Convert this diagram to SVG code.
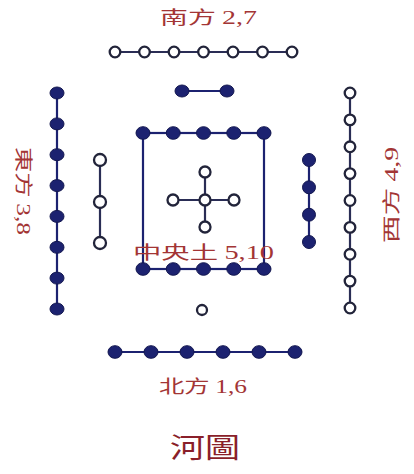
<svg xmlns="http://www.w3.org/2000/svg" width="414" height="474" viewBox="0 0 414 474">
<style>
.ln{stroke:#1c2270;stroke-width:2.2;fill:none}
.lw{stroke:#2a2d55;stroke-width:2.2;fill:none}
.b{fill:#1c2270;stroke:#141850;stroke-width:1}
.w{fill:#ffffff;stroke:#22243a;stroke-width:2.3}
.t{fill:#a33535;font-size:18px;font-family:"Noto Sans CJK SC","Noto Sans CJK TC",sans-serif}
.d{font-family:"Liberation Serif",serif}
</style>
<rect width="414" height="474" fill="#ffffff"/>
<g id="connectors">
<line class="lw" x1="115" y1="52" x2="292" y2="52"/>
<line class="ln" x1="182" y1="91" x2="227" y2="91"/>
<line class="ln" x1="57" y1="93" x2="57" y2="309"/>
<line class="lw" x1="100" y1="160" x2="100" y2="243"/>
<line class="lw" x1="350" y1="93" x2="350" y2="308"/>
<line class="ln" x1="309" y1="160" x2="309" y2="242"/>
<rect class="ln" x="143" y="133" width="121" height="136"/>
<line class="lw" x1="205" y1="172" x2="205" y2="227"/>
<line class="lw" x1="173" y1="200" x2="234" y2="200"/>
<line class="ln" x1="115" y1="352" x2="295" y2="352"/>
</g>
<g id="south">
<text class="t" x="160" y="24" textLength="97" lengthAdjust="spacingAndGlyphs">南方 <tspan class="d">2,7</tspan></text>
<circle class="w" cx="115" cy="52" r="5.3"/><circle class="w" cx="144.5" cy="52" r="5.3"/><circle class="w" cx="174" cy="52" r="5.3"/><circle class="w" cx="203.5" cy="52" r="5.3"/><circle class="w" cx="233" cy="52" r="5.3"/><circle class="w" cx="262.5" cy="52" r="5.3"/><circle class="w" cx="292" cy="52" r="5.3"/>
<ellipse class="b" cx="182" cy="91" rx="7" ry="6"/><ellipse class="b" cx="227" cy="91" rx="7" ry="6"/>
</g>
<g id="east">
<text class="t" transform="translate(17,147) rotate(90)" x="0" y="0" textLength="88" lengthAdjust="spacingAndGlyphs">東方 <tspan class="d">3,8</tspan></text>
<ellipse class="b" cx="57" cy="93" rx="7" ry="6"/><ellipse class="b" cx="57" cy="123.9" rx="7" ry="6"/><ellipse class="b" cx="57" cy="154.7" rx="7" ry="6"/><ellipse class="b" cx="57" cy="185.6" rx="7" ry="6"/><ellipse class="b" cx="57" cy="216.4" rx="7" ry="6"/><ellipse class="b" cx="57" cy="247.3" rx="7" ry="6"/><ellipse class="b" cx="57" cy="278.1" rx="7" ry="6"/><ellipse class="b" cx="57" cy="309" rx="7" ry="6"/>
<circle class="w" cx="100" cy="160" r="6"/><circle class="w" cx="100" cy="202" r="6"/><circle class="w" cx="100" cy="243" r="6"/>
</g>
<g id="west">
<text class="t" transform="translate(398,243) rotate(-90)" x="0" y="0" textLength="96" lengthAdjust="spacingAndGlyphs">西方 <tspan class="d">4,9</tspan></text>
<circle class="w" cx="350" cy="93" r="5.3"/><circle class="w" cx="350" cy="119.9" r="5.3"/><circle class="w" cx="350" cy="146.8" r="5.3"/><circle class="w" cx="350" cy="173.6" r="5.3"/><circle class="w" cx="350" cy="200.5" r="5.3"/><circle class="w" cx="350" cy="227.4" r="5.3"/><circle class="w" cx="350" cy="254.3" r="5.3"/><circle class="w" cx="350" cy="281.1" r="5.3"/><circle class="w" cx="350" cy="308" r="5.3"/>
<ellipse class="b" cx="309" cy="160" rx="6.5" ry="6.5"/><ellipse class="b" cx="309" cy="187.3" rx="6.5" ry="6.5"/><ellipse class="b" cx="309" cy="214.7" rx="6.5" ry="6.5"/><ellipse class="b" cx="309" cy="242" rx="6.5" ry="6.5"/>
</g>
<g id="center">
<ellipse class="b" cx="143" cy="133" rx="7" ry="6.3"/><ellipse class="b" cx="173.25" cy="133" rx="7" ry="6.3"/><ellipse class="b" cx="203.5" cy="133" rx="7" ry="6.3"/><ellipse class="b" cx="233.75" cy="133" rx="7" ry="6.3"/><ellipse class="b" cx="264" cy="133" rx="7" ry="6.3"/>
<ellipse class="b" cx="143" cy="269" rx="7" ry="6.3"/><ellipse class="b" cx="173.25" cy="269" rx="7" ry="6.3"/><ellipse class="b" cx="203.5" cy="269" rx="7" ry="6.3"/><ellipse class="b" cx="233.75" cy="269" rx="7" ry="6.3"/><ellipse class="b" cx="264" cy="269" rx="7" ry="6.3"/>
<circle class="w" cx="205" cy="172" r="5.5"/><circle class="w" cx="173" cy="200" r="5.5"/><circle class="w" cx="205" cy="200" r="5.5"/><circle class="w" cx="234" cy="200" r="5.5"/><circle class="w" cx="205" cy="227" r="5.5"/>
<text class="t" x="133" y="259" textLength="141" lengthAdjust="spacingAndGlyphs">中央土 <tspan class="d">5,10</tspan></text>
</g>
<g id="north">
<circle class="w" cx="202" cy="310" r="5"/>
<ellipse class="b" cx="115" cy="352" rx="7" ry="6.3"/><ellipse class="b" cx="151" cy="352" rx="7" ry="6.3"/><ellipse class="b" cx="187" cy="352" rx="7" ry="6.3"/><ellipse class="b" cx="223" cy="352" rx="7" ry="6.3"/><ellipse class="b" cx="259" cy="352" rx="7" ry="6.3"/><ellipse class="b" cx="295" cy="352" rx="7" ry="6.3"/>
<text class="t" x="159" y="393" textLength="88" lengthAdjust="spacingAndGlyphs">北方 <tspan class="d">1,6</tspan></text>
</g>
<g id="title">
<text class="t" x="170" y="458" style="font-size:28px;fill:#8a1f2a" textLength="70" lengthAdjust="spacingAndGlyphs">河圖</text>
</g>
</svg>
